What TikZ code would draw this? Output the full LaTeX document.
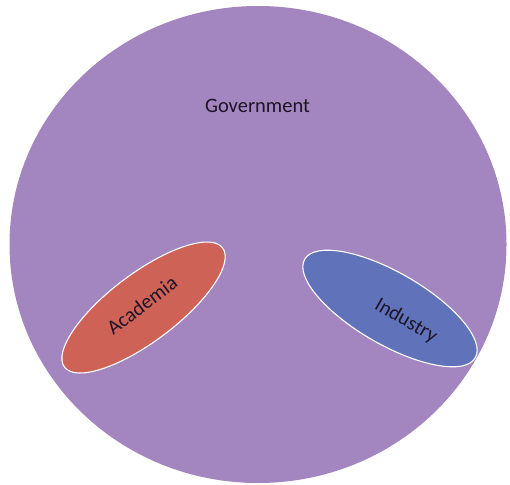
\documentclass[tikz,border=0pt]{standalone}
\usepackage{fontspec}
\setmainfont{Carlito}
\definecolor{govpurple}{HTML}{A386BF}
\definecolor{acadred}{HTML}{CF6256}
\definecolor{indblue}{HTML}{6073BA}
\definecolor{txtdark}{HTML}{1E1428}
\tikzset{
  x=1pt, y=1pt,
  govshape/.style={fill=govpurple},
  acadshape/.style={fill=acadred, draw=white, line width=1.1pt},
  indshape/.style={fill=indblue, draw=white, line width=1.1pt},
  lbl/.style={font=\fontsize{20.5}{24}\selectfont, text=txtdark, inner sep=0pt}
}
\begin{document}
\begin{tikzpicture}
\useasboundingbox (0,0) rectangle (510,-484);
\coordinate (govc) at (258,-244.5);
\coordinate (acadc) at (143.5,-307.5);
\coordinate (indc) at (390,-308.5);
\fill[govshape] (govc) ellipse [x radius=248.5, y radius=238.5];
\node[lbl, anchor=base] (govlabel) at (257.5,-112) {Government};
\path[acadshape, rotate around={37:(acadc)}] (acadc) ellipse [x radius=99, y radius=34];
\node[lbl, rotate=37] (acadlabel) at (142,-305) {Academia};
\path[indshape, rotate around={-30:(indc)}] (indc) ellipse [x radius=98.5, y radius=36];
\node[lbl, rotate=-30] (indlabel) at (406,-321) {Industry};
\end{tikzpicture}
\end{document}
